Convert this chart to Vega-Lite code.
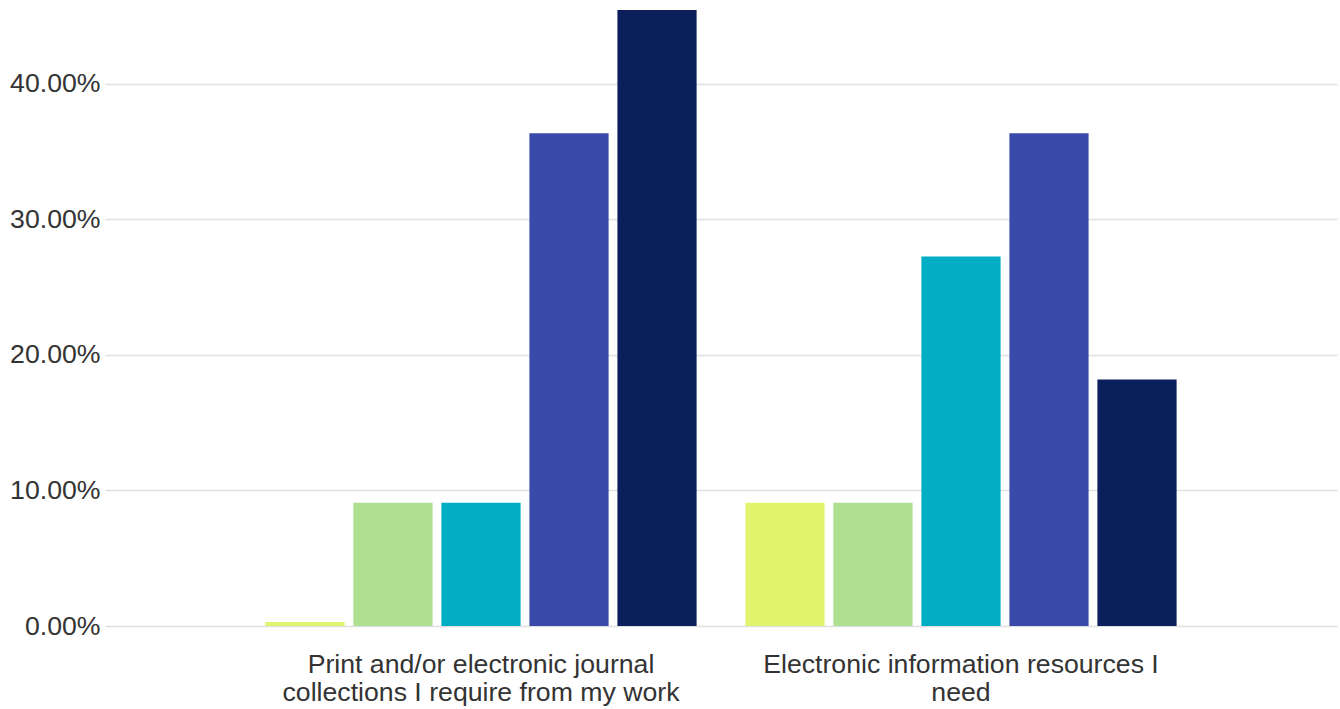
{
  "$schema": "https://vega.github.io/schema/vega-lite/v6.json",
  "width": 1232,
  "height": 616,
  "autosize": "none",
  "padding": {"left": 105, "top": 10, "right": 3, "bottom": 83},
  "background": "white",
  "config": {
    "view": {"stroke": null},
    "font": "Liberation Sans"
  },
  "data": {
    "values": [
      {"item": "Print and/or electronic journal collections I require from my work", "response": "Strongly disagree", "share": 0.003},
      {"item": "Print and/or electronic journal collections I require from my work", "response": "Disagree", "share": 0.0909},
      {"item": "Print and/or electronic journal collections I require from my work", "response": "Neutral", "share": 0.0909},
      {"item": "Print and/or electronic journal collections I require from my work", "response": "Agree", "share": 0.3636},
      {"item": "Print and/or electronic journal collections I require from my work", "response": "Strongly agree", "share": 0.4545},
      {"item": "Electronic information resources I need", "response": "Strongly disagree", "share": 0.0909},
      {"item": "Electronic information resources I need", "response": "Disagree", "share": 0.0909},
      {"item": "Electronic information resources I need", "response": "Neutral", "share": 0.2727},
      {"item": "Electronic information resources I need", "response": "Agree", "share": 0.3636},
      {"item": "Electronic information resources I need", "response": "Strongly agree", "share": 0.1818}
    ]
  },
  "mark": {"type": "bar"},
  "encoding": {
    "x": {
      "field": "item",
      "type": "nominal",
      "sort": null,
      "scale": {"paddingInner": 0.0833, "paddingOuter": 0.325},
      "axis": {
        "title": null,
        "labelAngle": 0,
        "domain": false,
        "ticks": false,
        "labelFontSize": 26.67,
        "labelColor": "#333333",
        "labelPadding": 25,
        "labelLineHeight": 28,
        "labelLimit": 600,
        "labelExpr": "datum.label == 'Electronic information resources I need' ? ['Electronic information resources I', 'need'] : ['Print and/or electronic journal', 'collections I require from my work']"
      }
    },
    "xOffset": {
      "field": "response",
      "type": "nominal",
      "sort": ["Strongly disagree", "Disagree", "Neutral", "Agree", "Strongly agree"],
      "scale": {"paddingInner": 0.1, "paddingOuter": 0.05}
    },
    "y": {
      "field": "share",
      "type": "quantitative",
      "scale": {"domain": [0, 0.4545], "nice": false},
      "axis": {
        "title": null,
        "format": ".2%",
        "values": [0, 0.1, 0.2, 0.3, 0.4],
        "domain": false,
        "ticks": false,
        "labelFontSize": 26.67,
        "labelColor": "#333333",
        "labelPadding": 5,
        "gridColor": "#e0e0e0",
        "gridWidth": 1.5
      }
    },
    "color": {
      "field": "response",
      "type": "nominal",
      "sort": ["Strongly disagree", "Disagree", "Neutral", "Agree", "Strongly agree"],
      "scale": {"range": ["#e1f46e", "#afdf91", "#00adc4", "#3a4aab", "#0b1f5b"]},
      "legend": null
    }
  }
}
